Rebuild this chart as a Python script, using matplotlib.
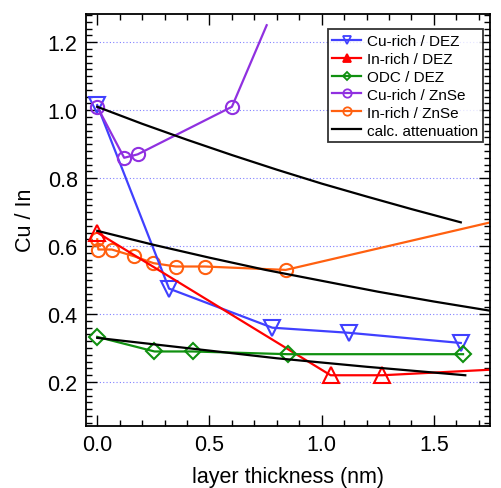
import numpy as np
import matplotlib
matplotlib.use("Agg")
import matplotlib.pyplot as plt
from matplotlib.lines import Line2D
from matplotlib.ticker import MultipleLocator, FormatStrFormatter

plt.rcParams['font.family'] = ['Liberation Sans', 'DejaVu Sans']

# Cu-rich / DEZ
cu_dez_x = [0.0, 0.32, 0.78, 1.12, 1.62]
cu_dez_y = [1.015, 0.475, 0.36, 0.345, 0.315]
# In-rich / DEZ (last point lies outside the x range)
in_dez_x = [0.0, 1.04, 1.27, 1.80]
in_dez_y = [0.64, 0.22, 0.22, 0.238]
# ODC / DEZ
odc_x = [0.0, 0.255, 0.425, 0.85, 1.63]
odc_y = [0.333, 0.29, 0.29, 0.282, 0.282]
# Cu-rich / ZnSe (last point without marker)
cu_znse_x = [0.0, 0.12, 0.18, 0.60, 0.755]
cu_znse_y = [1.01, 0.86, 0.87, 1.01, 1.25]
# In-rich / ZnSe (last point lies outside the x range)
in_znse_x = [0.0, 0.005, 0.065, 0.165, 0.25, 0.35, 0.48, 0.84, 1.85]
in_znse_y = [0.62, 0.59, 0.59, 0.57, 0.55, 0.54, 0.54, 0.53, 0.685]
# calc. attenuation curves
att1_x = [0.0, 0.2, 0.4, 0.6, 0.8, 1.0, 1.2, 1.4, 1.62]
att1_y = [1.01, 0.96, 0.913, 0.868, 0.825, 0.784, 0.746, 0.709, 0.67]
att2_x = [0.0, 0.25, 0.5, 0.75, 1.0, 1.25, 1.5, 1.75]
att2_y = [0.645, 0.604, 0.566, 0.53, 0.498, 0.466, 0.437, 0.41]
att3_x = [0.0, 0.4, 0.8, 1.2, 1.64]
att3_y = [0.33, 0.30, 0.27, 0.245, 0.22]

blue = '#4040ff'
red = '#ff0000'
green = '#109010'
purple = '#9030e0'
orange = '#ff6010'

fig = plt.figure(figsize=(5.01, 4.89), dpi=100)
ax = fig.add_axes([0.1717, 0.127, 0.8063, 0.843])

lw = 1.6
mew = 1.5
ax.plot(in_znse_x, in_znse_y, color=orange, lw=lw, marker='o', ms=9.5,
        mfc='none', mew=mew, markevery=list(range(8)))
ax.plot(cu_dez_x, cu_dez_y, color=blue, lw=lw, marker='v', ms=12,
        mfc='none', mew=mew)
ax.plot(in_dez_x, in_dez_y, color=red, lw=lw, marker='^', ms=12,
        mfc='none', mew=mew, markevery=[0, 1, 2])
ax.plot(odc_x, odc_y, color=green, lw=lw, marker='D', ms=8.5,
        mfc='none', mew=mew)
ax.plot(cu_znse_x, cu_znse_y, color=purple, lw=lw, marker='o', ms=9.5,
        mfc='none', mew=mew, markevery=[0, 1, 2, 3])
for xs, ys in [(att1_x, att1_y), (att2_x, att2_y), (att3_x, att3_y)]:
    ax.plot(xs, ys, color='black', lw=lw)

ax.set_xlim(-0.05, 1.75)
ax.set_ylim(0.071, 1.284)
ax.xaxis.set_major_locator(MultipleLocator(0.5))
ax.xaxis.set_minor_locator(MultipleLocator(0.1))
ax.yaxis.set_major_locator(MultipleLocator(0.2))
ax.yaxis.set_minor_locator(MultipleLocator(0.02))
ax.xaxis.set_major_formatter(FormatStrFormatter('%.1f'))
ax.yaxis.set_major_formatter(FormatStrFormatter('%.1f'))
ax.tick_params(which='both', direction='in', top=True, right=True,
               width=1.0, labelsize=15.5, pad=6)
ax.tick_params(which='major', length=8)
ax.tick_params(which='minor', length=4.5)
for s in ax.spines.values():
    s.set_linewidth(1.3)
ax.yaxis.grid(True, which='major', color='#8080ff', ls=(0, (1, 2)), lw=0.8)
ax.set_axisbelow(True)

ax.set_xlabel('layer thickness (nm)', fontsize=15.5, labelpad=8)
ax.set_ylabel('Cu / In', fontsize=15.5, labelpad=8)

handles = [
    Line2D([], [], color=blue, lw=lw, marker='v', ms=6, mfc='none', mew=1.3),
    Line2D([], [], color=red, lw=lw, marker='^', ms=6, mew=1.3),
    Line2D([], [], color=green, lw=lw, marker='D', ms=4.5, mfc='none', mew=1.3),
    Line2D([], [], color=purple, lw=lw, marker='o', ms=6, mfc='none', mew=1.3),
    Line2D([], [], color=orange, lw=lw, marker='o', ms=6, mfc='none', mew=1.3),
    Line2D([], [], color='black', lw=lw),
]
labels = ['Cu-rich / DEZ', 'In-rich / DEZ', 'ODC / DEZ', 'Cu-rich / ZnSe',
          'In-rich / ZnSe', 'calc. attenuation']
leg = ax.legend(handles, labels, loc='upper right', bbox_to_anchor=(0.983, 0.962),
                borderaxespad=0, fontsize=11, frameon=True, fancybox=False,
                handlelength=1.9, handletextpad=0.4, labelspacing=0.26,
                borderpad=0.3)
leg.get_frame().set_edgecolor('black')
leg.get_frame().set_linewidth(1.3)

fig.savefig('out.png', dpi=100)
